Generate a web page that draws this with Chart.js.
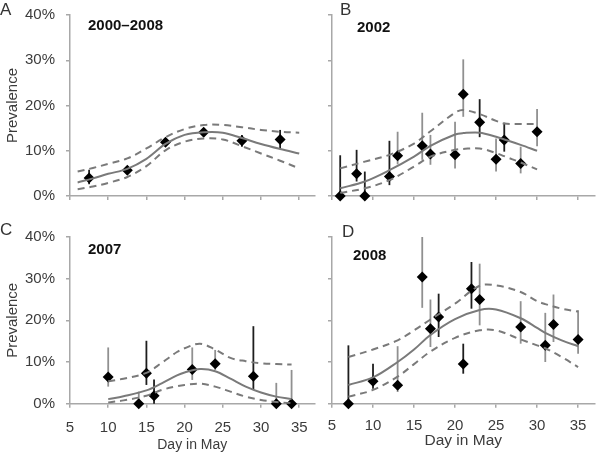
<!DOCTYPE html>
<html>
<head>
<meta charset="utf-8">
<script src="https://cdn.jsdelivr.net/npm/chart.js@4.4.0/dist/chart.umd.min.js"></script>
<style>
  body { margin: 0; background: #fff; width: 600px; height: 454px; overflow: hidden; position: relative;
         font-family: "Liberation Sans", Arial, sans-serif; }
  canvas { position: absolute; }
  .lbl { position: absolute; line-height: 1; white-space: nowrap; }
  .yr { font-weight: bold; font-size: 15px; color: #111; }
  .pn { font-size: 17px; color: #333; }
</style>
</head>
<body>
<canvas id="cA" width="320" height="227" style="left:0;top:0"></canvas>
<canvas id="cB" width="300" height="227" style="left:300px;top:0"></canvas>
<canvas id="cC" width="320" height="227" style="left:0;top:227px"></canvas>
<canvas id="cD" width="300" height="227" style="left:300px;top:227px"></canvas>

<div class="lbl pn" style="left:0;top:1px">A</div>
<div class="lbl pn" style="left:340px;top:1px">B</div>
<div class="lbl pn" style="left:0;top:221px">C</div>
<div class="lbl pn" style="left:342px;top:223px">D</div>
<div class="lbl yr" style="left:88px;top:17px">2000–2008</div>
<div class="lbl yr" style="left:357px;top:19px">2002</div>
<div class="lbl yr" style="left:88px;top:241px">2007</div>
<div class="lbl yr" style="left:353px;top:247px">2008</div>

<script>
const ticksX = [5, 10, 15, 20, 25, 30, 35];
const ticksY = [0, 10, 20, 30, 40];

// A: 2000–2008
const daysA = [7.5, 12.5, 17.5, 22.5, 27.5, 32.5];
const prevA = [4.0, 5.7, 11.9, 14.1, 12.2, 12.5];
const lowA  = [2.6, 5.0, 11.2, 13.4, 10.9, 10.5];
const highA = [5.8, 6.4, 12.5, 14.7, 13.5, 14.6];
const fitDaysA = [6, 8, 10, 12.5, 15, 17.5, 20, 22.5, 25, 27.5, 30, 32.5, 35];
const fitA     = [3.0, 3.9, 4.9, 6.0, 8.2, 11.5, 13.5, 14.1, 14.0, 12.8, 11.5, 10.4, 9.4];
const upperA   = [5.4, 6.2, 7.1, 8.3, 10.5, 13.0, 14.8, 15.7, 15.7, 15.2, 14.6, 14.2, 14.0];
const lowerA   = [1.5, 2.1, 2.9, 4.2, 6.6, 10.1, 12.0, 12.7, 12.5, 11.0, 9.4, 7.8, 6.1];

// B: 2002
const daysB = [6, 8, 9, 12, 13, 16, 17, 20, 21, 23, 25, 26, 28, 30];
const prevB = [0, 4.9, 0, 4.3, 8.9, 11.1, 9.3, 9.1, 22.5, 16.3, 8.1, 12.4, 7.2, 14.2];
const lowB  = [0, 3.2, 0, 2.4, 7.0, 8.0, 6.9, 6.1, 17.5, 13.0, 5.4, 9.8, 5.0, 11.0];
const highB = [9.0, 10.2, 5.4, 12.2, 14.2, 18.4, 13.5, 16.4, 30.2, 21.4, 12.7, 16.2, 10.9, 19.2];
const fitDaysB = [6, 9, 12, 15, 17, 20, 21, 23, 25, 26, 28, 30];
const fitB     = [1.7, 3.2, 5.7, 8.7, 11.1, 13.6, 13.9, 14.0, 13.1, 12.5, 11.3, 10.0];
const upperB   = [6.1, 7.6, 9.1, 11.6, 14.3, 18.4, 19.0, 18.1, 16.6, 16.0, 15.9, 15.9];
const lowerB   = [0.7, 1.7, 3.5, 6.5, 8.7, 10.2, 10.4, 10.5, 9.5, 8.8, 7.4, 5.9];

// C: 2007
const daysC = [10, 14, 15, 16, 21, 24, 29, 32, 34];
const prevC = [6.4, 0, 7.3, 1.9, 8.2, 9.6, 6.6, 0, 0];
const lowC  = [4.1, 0, 4.5, 0, 5.7, 8.1, 3.3, 0, 0];
const highC = [13.5, 2.9, 15.1, 5.8, 13.5, 12.9, 18.6, 5.0, 8.1];
const fitDaysC = [10, 12, 15, 17, 19, 20, 22, 24, 26, 28, 30, 32, 34];
const fitC     = [1.1, 1.8, 3.2, 4.9, 6.8, 7.5, 8.3, 7.8, 6.0, 4.1, 2.7, 1.7, 1.1];
const upperC   = [5.4, 6.0, 7.4, 9.8, 12.4, 13.3, 14.4, 13.0, 11.0, 10.2, 9.7, 9.5, 9.4];
const lowerC   = [0.3, 0.8, 1.9, 3.3, 4.2, 4.5, 4.8, 4.1, 2.9, 1.7, 0.9, 0.4, 0.1];

// D: 2008
const daysD = [7, 10, 13, 16, 17, 18, 21, 22, 23, 28, 31, 32, 35];
const prevD = [0, 5.4, 4.4, 30.4, 18.0, 20.8, 9.5, 27.6, 25.0, 18.4, 14.0, 19.0, 15.4];
const lowD  = [0, 3.6, 2.8, 23.0, 13.6, 16.0, 7.2, 22.8, 18.8, 14.4, 10.0, 14.8, 12.0];
const highD = [14.0, 9.6, 13.8, 40.0, 25.0, 26.4, 14.4, 34.0, 33.6, 24.6, 21.8, 26.2, 22.4];
const fitDaysD = [7, 10, 13, 15, 17, 20, 23, 25, 28, 30, 31, 33, 35];
const fitD     = [4.5, 6.3, 10.0, 13.0, 16.5, 20.3, 22.5, 22.6, 20.5, 18.2, 17.0, 15.2, 13.8];
const upperD   = [11.2, 13.0, 15.2, 17.6, 20.2, 24.0, 28.3, 28.4, 26.8, 24.6, 23.9, 22.8, 22.1];
const lowerD   = [1.7, 3.3, 6.5, 9.5, 12.5, 15.8, 17.6, 17.6, 15.4, 14.0, 13.3, 11.2, 8.8];

// which error bars are drawn dark (the rest are light gray)
const darkA = [1, 1, 1, 1, 1, 1];
const darkB = [1, 1, 1, 1, 0, 0, 0, 0, 0, 1, 0, 1, 0, 0];
const darkC = [0, 0, 1, 1, 0, 0, 1, 0, 0];
const darkD = [1, 1, 0, 0, 0, 1, 1, 1, 0, 0, 0, 0, 0];

const axisColor = '#a8a8a8';
const textColor = '#3c3c3c';
const curveColor = '#7a7a7a';

Chart.defaults.font.family = "'Liberation Sans', Arial, sans-serif";

function pts(xs, ys) {
  return xs.map((v, i) => ({ x: v, y: ys[i] }));
}

function errorBars(days, low, high, dark) {
  return {
    id: 'errorBars',
    beforeDatasetsDraw(chart) {
      const xs = chart.scales.x, ys = chart.scales.y, ctx = chart.ctx;
      ctx.save();
      ctx.lineWidth = 1.8;
      days.forEach((d, i) => {
        ctx.strokeStyle = dark[i] ? '#1e1e1e' : '#909090';
        const px = xs.getPixelForValue(d);
        ctx.beginPath();
        ctx.moveTo(px, ys.getPixelForValue(low[i]));
        ctx.lineTo(px, ys.getPixelForValue(high[i]));
        ctx.stroke();
      });
      ctx.restore();
    }
  };
}

function curve(xs, ys, dashed) {
  return {
    data: pts(xs, ys),
    borderColor: curveColor,
    borderWidth: 2,
    borderDash: dashed ? [7, 5] : [],
    pointRadius: 0,
    tension: 0.35,
    fill: false
  };
}

function makePanel(id, p) {
  new Chart(document.getElementById(id), {
    type: 'line',
    data: {
      datasets: [
        curve(p.fitDays, p.upper, true),
        curve(p.fitDays, p.lower, true),
        curve(p.fitDays, p.fit, false),
        {
          data: pts(p.days, p.prev),
          showLine: false,
          pointStyle: 'rectRot',
          pointRadius: 5.5,
          backgroundColor: '#000',
          borderColor: '#000',
          borderWidth: 0,
          clip: false
        }
      ]
    },
    options: {
      responsive: false,
      animation: false,
      layout: { padding: { top: p.padTop, right: p.padRight, left: 0, bottom: 0 } },
      plugins: { legend: { display: false }, tooltip: { enabled: false } },
      scales: {
        x: {
          type: 'linear',
          min: 5,
          max: 37,
          afterBuildTicks: s => { s.ticks = ticksX.map(v => ({ value: v })); },
          afterFit: s => { s.height = p.xH; s.paddingLeft = 0; s.paddingRight = 0; },
          border: { color: axisColor, width: 1.5 },
          grid: { drawOnChartArea: false, tickLength: 4, color: axisColor, lineWidth: 1.5 },
          ticks: { display: p.showX, padding: p.xPad, color: textColor, font: { size: 15 } },
          title: {
            display: p.showX,
            text: 'Day in May',
            color: textColor,
            font: { size: p.titleSize },
            padding: { top: 0, bottom: p.titlePad }
          }
        },
        y: {
          min: 0,
          max: 40,
          afterBuildTicks: s => { s.ticks = ticksY.map(v => ({ value: v })); },
          afterFit: s => { s.width = p.yW; s.paddingTop = 0; s.paddingBottom = 0; },
          border: { color: axisColor, width: 1.5 },
          grid: { drawOnChartArea: false, tickLength: 4, color: axisColor, lineWidth: 1.5 },
          ticks: { display: p.showY, padding: 11, color: textColor, font: { size: 15 }, callback: v => v + '%' },
          title: {
            display: p.showY,
            text: 'Prevalence',
            color: textColor,
            font: { size: 15 },
            padding: { top: 3.5, bottom: 0 }
          }
        }
      }
    },
    plugins: [errorBars(p.days, p.low, p.high, p.dark)]
  });
}

makePanel('cA', {
  days: daysA, prev: prevA, low: lowA, high: highA, dark: darkA,
  fitDays: fitDaysA, fit: fitA, upper: upperA, lower: lowerA,
  padTop: 15, padRight: 5, xH: 31, yW: 70, showX: false, showY: true
});
makePanel('cB', {
  days: daysB, prev: prevB, low: lowB, high: highB, dark: darkB,
  fitDays: fitDaysB, fit: fitB, upper: upperB, lower: lowerB,
  padTop: 15, padRight: 1.3, xH: 31, yW: 32, showX: false, showY: false
});
makePanel('cC', {
  days: daysC, prev: prevC, low: lowC, high: highC, dark: darkC,
  fitDays: fitDaysC, fit: fitC, upper: upperC, lower: lowerC,
  padTop: 10, padRight: 5, xH: 50.3, yW: 70, showX: true, showY: true,
  xPad: 11.3, titleSize: 14, titlePad: 0.6
});
makePanel('cD', {
  days: daysD, prev: prevD, low: lowD, high: highD, dark: darkD,
  fitDays: fitDaysD, fit: fitD, upper: upperD, lower: lowerD,
  padTop: 10, padRight: 1.3, xH: 50.3, yW: 32, showX: true, showY: false,
  xPad: 9, titleSize: 15.5, titlePad: 3.7
});
</script>
</body>
</html>
